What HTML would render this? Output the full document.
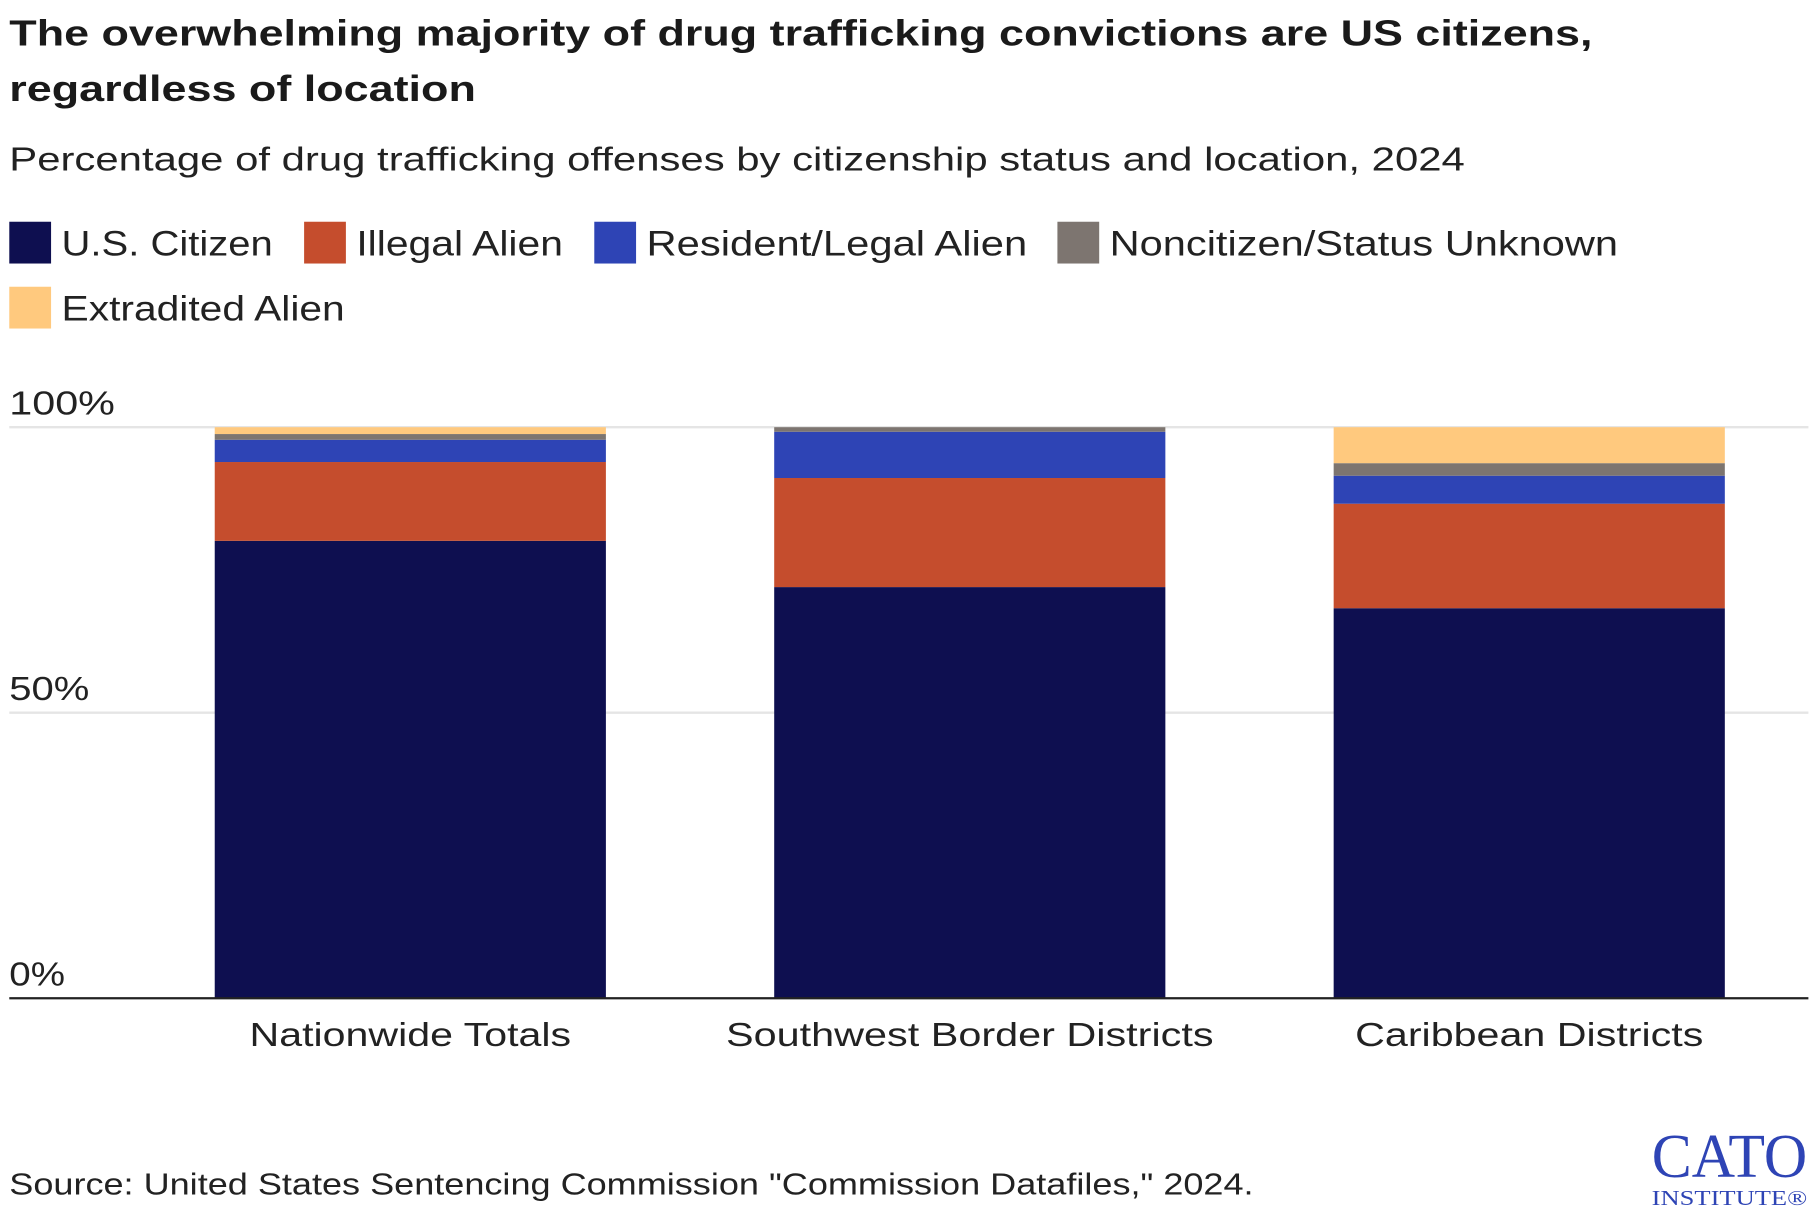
<!DOCTYPE html>
<html><head><meta charset="utf-8"><style>
html,body{margin:0;padding:0;background:#fff;width:1820px;height:1220px;overflow:hidden}
svg{display:block}
text{font-family:"Liberation Sans",sans-serif}
</style></head><body>
<svg id="chart" width="1820" height="1220" viewBox="0 0 1568 1051" xmlns="http://www.w3.org/2000/svg">
<text x="8" y="39" font-size="31" font-weight="bold" fill="#1a1a1a" textLength="1364" lengthAdjust="spacingAndGlyphs">The overwhelming majority of drug trafficking convictions are US citizens,</text>
<text x="8" y="87" font-size="31" font-weight="bold" fill="#1a1a1a" textLength="402" lengthAdjust="spacingAndGlyphs">regardless of location</text>
<text x="8" y="147" font-size="29" fill="#222" textLength="1254" lengthAdjust="spacingAndGlyphs">Percentage of drug trafficking offenses by citizenship status and location, 2024</text>
<g id="legend"></g>
<g id="grid"></g>
<g id="bars"></g>
<g id="xlabels"></g>
<text x="8" y="1029" font-size="26" fill="#222" textLength="1072" lengthAdjust="spacingAndGlyphs">Source: United States Sentencing Commission "Commission Datafiles," 2024.</text>
<g>
<text x="1490" y="1014" style="font-family:'Liberation Serif',serif" font-size="54" fill="#2e44b5" text-anchor="middle" textLength="134" lengthAdjust="spacingAndGlyphs">CATO</text>
<text x="1490" y="1038" style="font-family:'Liberation Serif',serif" font-size="18" fill="#2e44b5" text-anchor="middle" textLength="134" lengthAdjust="spacingAndGlyphs">INSTITUTE®</text>
</g>
</svg>
<script>
const categories = ["Nationwide Totals","Southwest Border Districts","Caribbean Districts"];
const seriesNames = ["U.S. Citizen","Illegal Alien","Resident/Legal Alien","Noncitizen/Status Unknown","Extradited Alien"];
const usCitizen = [80.1, 72.0, 68.3];
const illegalAlien = [13.8, 19.1, 18.3];
const residentAlien = [3.9, 8.1, 4.9];
const noncitizen = [1.0, 0.8, 2.2];
const extradited = [1.2, 0.0, 6.3];
const yTicks = [0, 50, 100];
const yTickLabels = ["0%","50%","100%"];

const colors = ["#0e0f50","#c54d2d","#2e44b5","#7d7570","#ffc97e"];
const series = [usCitizen, illegalAlien, residentAlien, noncitizen, extradited];
const NS = "http://www.w3.org/2000/svg";
const plotLeft = 8, plotRight = 1558, yTop = 368, yBottom = 860;
const y = v => yBottom - (v/100)*(yBottom - yTop);
const barW = 337;
const xCenter = i => 353.5 + i*482;
function mk(tag, attrs, parent){const e=document.createElementNS(NS,tag);for(const k in attrs)e.setAttribute(k,attrs[k]);parent.appendChild(e);return e;}

const lg = document.getElementById('legend');
const legPos = [[8,191],[262,191],[512,191],[911,191],[8,247]];
const legW = [182,178,328,438,244];
seriesNames.forEach((n,i)=>{
  const g = mk('g',{},lg);
  
  
  mk('rect',{x:legPos[i][0],y:legPos[i][1],width:36,height:36,fill:colors[i]},g);
  const t = mk('text',{x:legPos[i][0]+45,y:legPos[i][1]+29,'font-size':30,fill:'#222',textLength:legW[i],lengthAdjust:'spacingAndGlyphs'},g);
  t.textContent = n;
});

const gr = document.getElementById('grid');
const tickW = [48,69,91];
yTicks.forEach((v,i)=>{
  if(v>0){
    const l = mk('line',{x1:plotLeft,x2:plotRight,y1:y(v),y2:y(v),stroke:'#e5e5e5','stroke-width':2},gr);
    
    
  }
  const t = mk('text',{x:8,y:y(v)-11,'font-size':29,fill:'#222',textLength:tickW[i],lengthAdjust:'spacingAndGlyphs'},gr);
  
  
  t.textContent = yTickLabels[i];
});

const bg = document.getElementById('bars');
categories.forEach((c,i)=>{
  let cum = 0;
  series.forEach((s,j)=>{
    const v = s[i];
    if(v<=0) return;
    const r = mk('rect',{x:xCenter(i)-barW/2,y:y(cum+v),width:barW,height:y(cum)-y(cum+v),fill:colors[j]},bg);
    
    
    cum += v;
  });
});
const base = mk('line',{x1:plotLeft,x2:plotRight,y1:yBottom,y2:yBottom,stroke:'#222','stroke-width':2},bg);



const xl = document.getElementById('xlabels');
const xlW = [277,420,300];
categories.forEach((c,i)=>{
  const t = mk('text',{x:xCenter(i),y:901,'font-size':29,fill:'#222','text-anchor':'middle',textLength:xlW[i],lengthAdjust:'spacingAndGlyphs'},xl);
  
  
  t.textContent = c;
});
</script>
</body></html>
